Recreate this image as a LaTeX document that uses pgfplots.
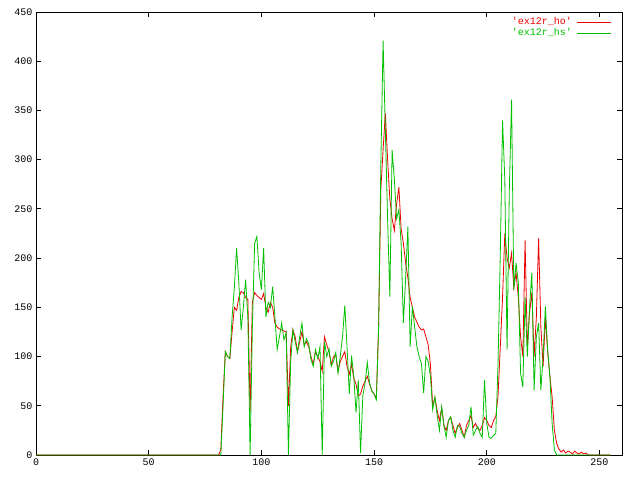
\documentclass[border=0pt]{standalone}
\usepackage{fontspec}
\setmonofont{Liberation Mono}
\usepackage{pgfplots}
\usepackage{pgfplotstable}
\pgfplotsset{compat=1.18}
\definecolor{gpred}{RGB}{235,0,0}
\definecolor{gpgreen}{RGB}{0,192,0}

% histogram counts, bins 0..255
\pgfplotstableread{
x ho hs
0 0 0
1 0 0
2 0 0
3 0 0
4 0 0
5 0 0
6 0 0
7 0 0
8 0 0
9 0 0
10 0 0
11 0 0
12 0 0
13 0 0
14 0 0
15 0 0
16 0 0
17 0 0
18 0 0
19 0 0
20 0 0
21 0 0
22 0 0
23 0 0
24 0 0
25 0 0
26 0 0
27 0 0
28 0 0
29 0 0
30 0 0
31 0 0
32 0 0
33 0 0
34 0 0
35 0 0
36 0 0
37 0 0
38 0 0
39 0 0
40 0 0
41 0 0
42 0 0
43 0 0
44 0 0
45 0 0
46 0 0
47 0 0
48 0 0
49 0 0
50 0 0
51 0 0
52 0 0
53 0 0
54 0 0
55 0 0
56 0 0
57 0 0
58 0 0
59 0 0
60 0 0
61 0 0
62 0 0
63 0 0
64 0 0
65 0 0
66 0 0
67 0 0
68 0 0
69 0 0
70 0 0
71 0 0
72 0 0
73 0 0
74 0 0
75 0 0
76 0 0
77 0 0
78 0 0
79 0 0
80 0 0
81 0 0
82 5 0
83 60 50
84 105 105
85 100 100
86 98 98
87 125 140
88 150 170
89 147 210
90 160 175
91 166 127
92 165 150
93 160 178
94 158 140
95 45 0
96 155 130
97 165 215
98 162 222
99 160 185
100 158 168
101 164 210
102 150 140
103 145 155
104 155 150
105 150 171
106 134 140
107 130 107
108 128 120
109 127 134
110 126 117
111 125 124
112 50 0
113 110 95
114 127 127
115 120 115
116 105 104
117 115 120
118 125 134
119 112 110
120 115 118
121 110 113
122 100 97
123 92 90
124 105 107
125 100 98
126 95 110
127 85 0
128 120 115
129 112 100
130 105 108
131 92 90
132 100 95
133 102 104
134 85 83
135 95 100
136 100 120
137 105 152
138 90 110
139 82 62
140 92 101
141 78 80
142 72 43
143 60 76
144 62 2
145 70 60
146 75 73
147 80 94
148 72 73
149 65 65
150 62 62
151 58 56
152 130 127
153 270 296
154 310 421
155 347 330
156 300 240
157 260 161
158 240 310
159 228 280
160 255 240
161 272 249
162 230 215
163 215 134
164 195 180
165 180 232
166 160 110
167 150 151
168 140 130
169 135 110
170 130 100
171 127 93
172 128 63
173 120 100
174 112 95
175 92 80
176 50 46
177 58 59
178 45 40
179 35 25
180 48 49
181 30 30
182 25 18
183 35 35
184 38 39
185 30 25
186 22 18
187 28 30
188 32 29
189 25 22
190 18 18
191 30 25
192 35 30
193 40 49
194 28 20
195 32 25
196 27 29
197 25 22
198 30 18
199 38 76
200 35 32
201 30 18
202 28 17
203 35 20
204 39 22
205 60 93
206 110 205
207 160 340
208 225 280
209 200 107
210 190 269
211 205 361
212 170 168
213 185 195
214 160 175
215 120 83
216 100 69
217 218 160
218 110 100
219 145 151
220 165 185
221 100 66
222 140 120
223 220 134
224 130 66
225 90 100
226 140 151
227 105 107
228 80 80
229 59 32
230 25 5
231 12 0
232 6 0
233 3 0
234 5 0
235 2 0
236 4 0
237 3 0
238 1 0
239 4 0
240 2 0
241 1 0
242 3 0
243 1 0
244 2 0
245 0 0
246 0 0
247 0 0
248 0 0
249 0 0
250 0 0
251 0 0
252 0 0
253 0 0
254 0 0
255 0 0
}\hist

\begin{document}
\begin{tikzpicture}[x=1pt,y=1pt]
\useasboundingbox (0,0) rectangle (640,480);
\begin{axis}[
  at={(36pt,25pt)}, anchor=south west,
  scale only axis, width=586pt, height=443pt,
  xmin=0, xmax=260, ymin=0, ymax=450,
  xtick={0,50,...,250}, ytick={0,50,...,450},
  scaled ticks=false,
  tick align=inside, major tick length=5pt,
  tick style={black, line width=0.8pt},
  axis line style={line width=0.8pt},
  ticklabel style={font=\ttfamily\fontsize{10}{10}\selectfont},
  /pgf/number format/assume math mode=true,
]
\addplot[gpred, line width=0.8pt, mark=none] table[x=x, y=ho] {\hist};
\addplot[gpgreen, line width=0.8pt, mark=none] table[x=x, y=hs] {\hist};

% key, top right, gnuplot style
\node[anchor=mid east, inner sep=0pt, text=gpred, font=\ttfamily\fontsize{10}{10}\selectfont]
  at (axis description cs:0.9147,0.9774) {'ex12r\_ho'};
\draw[gpred, line width=0.8pt] (axis description cs:0.9232,0.9774) -- (axis description cs:0.9812,0.9774);
\node[anchor=mid east, inner sep=0pt, text=gpgreen, font=\ttfamily\fontsize{10}{10}\selectfont]
  at (axis description cs:0.9147,0.9526) {'ex12r\_hs'};
\draw[gpgreen, line width=0.8pt] (axis description cs:0.9232,0.9526) -- (axis description cs:0.9812,0.9526);
\end{axis}
\end{tikzpicture}
\end{document}
